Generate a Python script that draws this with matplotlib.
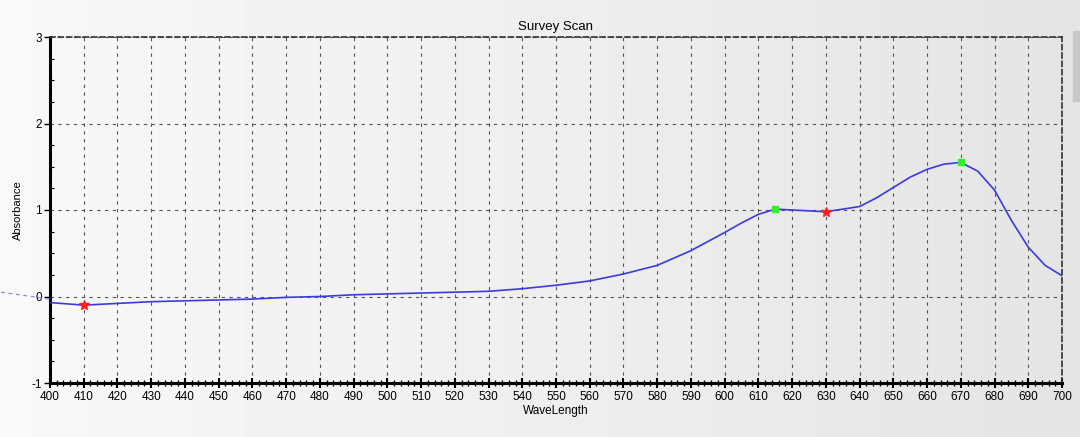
import numpy as np
import matplotlib.pyplot as plt
from matplotlib.ticker import MultipleLocator

# survey scan readings
wavelength = [400, 410, 420, 430, 440, 450, 460, 470, 480, 490, 500, 510, 520, 530,
              540, 550, 560, 570, 580, 590, 600, 605, 610, 615, 620, 630, 640, 645,
              650, 655, 660, 665, 670, 675, 680, 685, 690, 695, 700]
absorbance = [-0.07, -0.10, -0.08, -0.06, -0.05, -0.04, -0.03, -0.01, 0.00, 0.02,
              0.03, 0.04, 0.05, 0.06, 0.09, 0.13, 0.18, 0.26, 0.36, 0.53, 0.74,
              0.85, 0.95, 1.01, 1.00, 0.98, 1.04, 1.14, 1.26, 1.38, 1.47, 1.53,
              1.55, 1.45, 1.23, 0.88, 0.57, 0.36, 0.24]

# peaks (green) and valleys (red)
peak_x = [615, 670]
peak_y = [1.01, 1.55]
valley_x = [410, 630]
valley_y = [-0.10, 0.98]

# off-axis lead-in of the trace
lead_x = [385.5, 400]
lead_y = [0.05, -0.03]

plt.rcParams['font.family'] = ['Liberation Sans', 'DejaVu Sans']
plt.rcParams['axes.unicode_minus'] = False

fig = plt.figure(figsize=(10.8, 4.37), dpi=100)

# gradient background
bg = fig.add_axes([0, 0, 1, 1], zorder=-10)
grad = np.linspace(0.975, 0.895, 256).reshape(1, -1)
bg.imshow(grad, aspect='auto', cmap='gray', vmin=0, vmax=1, extent=[0, 1, 0, 1])
bg.add_patch(plt.Rectangle((0.9935, 0.77), 0.006, 0.16, color='#c8c8c8'))
bg.set_xlim(0, 1)
bg.set_ylim(0, 1)
bg.axis('off')

ax = fig.add_axes([50 / 1080, 1 - 383 / 437, 1012 / 1080, 346 / 437])
ax.patch.set_alpha(0)

ax.plot(wavelength, absorbance, color='#3a3ae0', linewidth=1.2, zorder=3)
ax.plot(lead_x, lead_y, color='#8a8ae8', linewidth=0.9, linestyle=(0, (3, 3)),
        clip_on=False, zorder=3)
ax.plot(valley_x, valley_y, linestyle='none', marker='*', color='#ff2020',
        markersize=7, zorder=4)
ax.plot(peak_x, peak_y, linestyle='none', marker='s', color='#33ee33',
        markersize=4, zorder=4)

ax.set_xlim(400, 700)
ax.set_ylim(-1, 3)
ax.xaxis.set_major_locator(MultipleLocator(10))
ax.xaxis.set_minor_locator(MultipleLocator(2))
ax.yaxis.set_major_locator(MultipleLocator(1))
ax.yaxis.set_minor_locator(MultipleLocator(0.25))

ax.grid(True, which='major', color='#555555', linestyle=(0, (3, 4)), linewidth=0.8)

for side in ['left', 'bottom']:
    ax.spines[side].set_linewidth(2.2)
    ax.spines[side].set_color('black')
for side in ['top', 'right']:
    ax.spines[side].set_linestyle((0, (3, 2)))
    ax.spines[side].set_linewidth(1.2)
    ax.spines[side].set_color('#333333')

ax.tick_params(axis='x', which='major', direction='inout', length=7, width=1.5,
               labelsize=8.5, pad=2)
ax.tick_params(axis='x', which='minor', direction='inout', length=5, width=1)
ax.tick_params(axis='y', which='major', direction='out', length=4, width=1,
               labelsize=8.5, pad=2)
ax.tick_params(axis='y', which='minor', direction='in', length=3, width=0.8)

ax.set_title('Survey Scan', fontsize=9.5, pad=5)
ax.set_xlabel('WaveLength', fontsize=8.5, labelpad=2)
ax.set_ylabel('Absorbance', fontsize=8, labelpad=6)

fig.savefig('out.png', dpi=100)
